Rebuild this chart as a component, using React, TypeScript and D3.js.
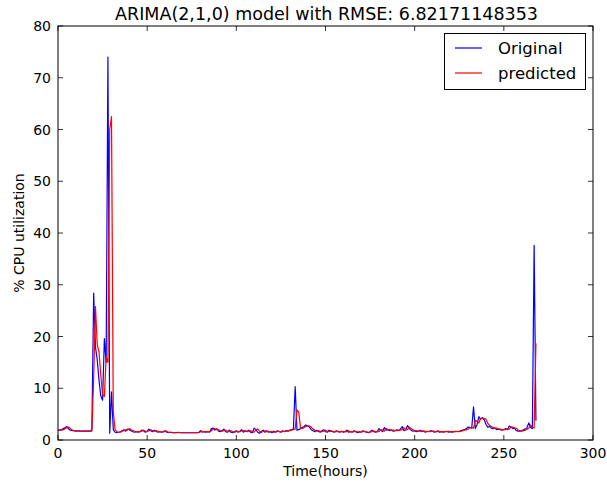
import React from "react";
import * as d3 from "d3";

const title = "ARIMA(2,1,0) model with RMSE: 6.82171148353";
const xTicks = [0, 50, 100, 150, 200, 250, 300];
const yTicks = [0, 10, 20, 30, 40, 50, 60, 70, 80];

const original = [
  1.9, 1.9, 2.0, 2.2, 2.4, 2.6, 2.1, 1.9, 1.8, 1.8,
  1.7, 1.8, 1.7, 1.7, 1.7, 1.7, 1.7, 1.7, 1.7, 2.0,
  28.4, 18.0, 15.5, 11.5, 8.5, 7.7, 19.6, 15.0, 74.0, 1.3,
  9.3, 2.0, 1.5, 1.4, 1.5, 1.6, 1.8, 2.0, 1.7, 2.1,
  2.0, 1.8, 1.6, 1.5, 1.6, 1.5, 1.6, 1.9, 1.8, 1.5,
  1.7, 2.1, 1.8, 1.6, 1.9, 1.7, 1.5, 1.6, 1.5, 1.6,
  1.8, 1.5, 1.4, 1.5, 1.4, 1.4, 1.4, 1.5, 1.4, 1.4,
  1.4, 1.4, 1.4, 1.4, 1.4, 1.4, 1.4, 1.4, 1.4, 1.5,
  1.8, 1.5, 1.6, 1.5, 1.6, 1.5, 2.2, 2.3, 1.9, 2.2,
  1.7, 1.6, 1.8, 2.1, 1.6, 1.5, 1.9, 1.5, 1.4, 1.6,
  1.8, 1.5, 1.7, 2.0, 1.5, 1.8, 1.6, 1.9, 1.5, 1.4,
  2.3, 2.0, 1.5, 1.3, 1.6, 1.9, 1.5, 1.8, 1.5, 1.6,
  1.4, 1.7, 1.5, 1.8, 1.6, 1.5, 1.8, 1.6, 1.8, 1.7,
  1.9, 2.0, 2.1, 10.3, 1.9, 2.0, 2.2, 2.4, 2.6, 2.9,
  2.7, 2.5, 2.0, 1.8, 1.6, 1.9, 1.7, 1.5, 1.8, 2.0,
  1.6, 1.5, 1.9, 1.7, 1.6, 1.5, 1.8, 1.6, 1.5, 1.7,
  1.5, 1.6, 1.9, 1.5, 1.6, 1.5, 1.8, 1.6, 1.4, 1.6,
  1.5, 1.8, 1.6, 1.5, 1.4, 1.6, 1.9, 1.6, 1.5, 1.6,
  2.2, 1.9, 1.6, 2.4, 1.9, 2.0, 1.8, 1.9, 1.7, 1.8,
  2.0, 1.8, 2.1, 2.6, 1.8, 2.0, 2.8, 2.2, 1.9, 1.7,
  1.8, 1.6, 1.7, 1.9, 1.6, 1.7, 1.5, 1.7, 1.6, 1.8,
  1.7, 1.5, 1.6, 1.8, 1.5, 1.6, 1.5, 1.6, 1.7, 1.5,
  1.6, 1.5, 1.6, 1.7, 1.6, 1.7, 1.8, 1.9, 2.0, 2.2,
  2.5, 2.4, 2.3, 6.4, 2.2, 3.0, 4.5, 4.0, 4.3, 3.9,
  3.0, 2.5, 2.6, 2.3, 2.2, 2.3, 2.0, 2.1, 2.0, 1.9,
  2.0, 2.2, 2.0, 2.7, 2.5, 2.2, 2.3, 1.8, 1.7, 1.7,
  1.8, 2.0, 2.1, 2.4, 3.3, 2.4, 2.2, 37.6, 3.7,
];

const predicted = [
  1.9, 1.9, 1.9, 2.0, 2.2, 2.4, 2.5, 2.2, 1.9, 1.8,
  1.8, 1.7, 1.8, 1.7, 1.7, 1.7, 1.7, 1.7, 1.7, 1.7,
  12.0, 25.8, 18.5, 17.0, 12.5, 8.8, 8.4, 16.0, 15.0, 60.0,
  62.5, 5.5, 2.0, 1.6, 1.5, 1.5, 1.7, 1.8, 2.0, 1.9,
  2.2, 2.0, 1.8, 1.7, 1.6, 1.6, 1.6, 1.7, 1.9, 1.7,
  1.6, 1.8, 2.0, 1.8, 1.7, 1.8, 1.7, 1.6, 1.6, 1.5,
  1.7, 1.7, 1.5, 1.5, 1.5, 1.4, 1.4, 1.4, 1.5, 1.4,
  1.4, 1.4, 1.4, 1.4, 1.4, 1.4, 1.4, 1.4, 1.4, 1.4,
  1.6, 1.7, 1.6, 1.6, 1.6, 1.6, 1.8, 2.1, 2.2, 2.0,
  2.0, 1.8, 1.7, 1.8, 1.9, 1.7, 1.6, 1.8, 1.6, 1.5,
  1.6, 1.7, 1.6, 1.8, 1.8, 1.7, 1.7, 1.7, 1.8, 1.6,
  1.5, 2.0, 2.1, 1.7, 1.5, 1.6, 1.8, 1.6, 1.7, 1.6,
  1.6, 1.5, 1.6, 1.6, 1.7, 1.6, 1.6, 1.7, 1.7, 1.8,
  1.8, 1.9, 2.0, 2.1, 5.8, 5.4, 2.3, 2.2, 2.4, 2.6,
  2.8, 2.7, 2.5, 2.1, 1.9, 1.7, 1.8, 1.7, 1.6, 1.7,
  1.9, 1.7, 1.6, 1.8, 1.7, 1.6, 1.6, 1.7, 1.6, 1.6,
  1.6, 1.6, 1.6, 1.8, 1.6, 1.6, 1.6, 1.7, 1.6, 1.5,
  1.6, 1.6, 1.7, 1.6, 1.5, 1.5, 1.6, 1.8, 1.6, 1.6,
  1.6, 2.0, 1.9, 1.7, 2.2, 2.0, 2.0, 1.9, 1.9, 1.8,
  1.8, 1.9, 1.9, 2.0, 2.4, 2.0, 2.0, 2.5, 2.2, 2.0,
  1.8, 1.8, 1.7, 1.7, 1.8, 1.7, 1.7, 1.6, 1.7, 1.6,
  1.7, 1.7, 1.6, 1.6, 1.7, 1.6, 1.6, 1.6, 1.6, 1.7,
  1.6, 1.6, 1.6, 1.6, 1.7, 1.6, 1.7, 1.8, 1.9, 2.0,
  2.1, 2.4, 2.4, 2.3, 3.8, 3.6, 3.3, 4.2, 4.2, 4.2,
  4.0, 3.2, 2.8, 2.6, 2.4, 2.3, 2.3, 2.1, 2.1, 2.0,
  2.0, 2.0, 2.1, 2.1, 2.5, 2.5, 2.3, 2.3, 1.9, 1.8,
  1.7, 1.8, 1.9, 2.1, 2.3, 2.9, 2.5, 2.3, 18.7,
];

const W = 607;
const H = 487;
const M = { left: 58, right: 593, top: 26, bottom: 440 };
const FONT = "'DejaVu Sans', sans-serif";

export default function App() {
  const x = d3.scaleLinear().domain([0, 300]).range([M.left, M.right]);
  const y = d3.scaleLinear().domain([0, 80]).range([M.bottom, M.top]);
  const line = d3
    .line<number>()
    .x((_, i) => x(i))
    .y((d) => y(d));
  const tickLen = 5;
  return (
    <svg
      width={W}
      height={H}
      style={{ position: "absolute", left: 0, top: 0, background: "#fff" }}
      fontFamily={FONT}
    >
      <rect x={0} y={0} width={W} height={H} fill="#fff" />
      <defs>
        <clipPath id="plot">
          <rect x={M.left} y={M.top} width={M.right - M.left} height={M.bottom - M.top} />
        </clipPath>
      </defs>
      <g clipPath="url(#plot)">
        <path d={line(original) || ""} fill="none" stroke="#0000ff" strokeWidth={1.2} strokeLinejoin="round" />
        <path d={line(predicted) || ""} fill="none" stroke="#ff0000" strokeWidth={1.2} strokeLinejoin="round" />
      </g>
      {xTicks.map((t) => (
        <g key={"x" + t}>
          <line x1={x(t)} x2={x(t)} y1={M.bottom} y2={M.bottom - tickLen} stroke="#000" strokeWidth={0.8} />
          <line x1={x(t)} x2={x(t)} y1={M.top} y2={M.top + tickLen} stroke="#000" strokeWidth={0.8} />
          <text x={x(t)} y={M.bottom + 18} textAnchor="middle" fontSize={14} fill="#000">
            {t}
          </text>
        </g>
      ))}
      {yTicks.map((t) => (
        <g key={"y" + t}>
          <line x1={M.left} x2={M.left + tickLen} y1={y(t)} y2={y(t)} stroke="#000" strokeWidth={0.8} />
          <line x1={M.right} x2={M.right - tickLen} y1={y(t)} y2={y(t)} stroke="#000" strokeWidth={0.8} />
          <text x={M.left - 7} y={y(t) + 5} textAnchor="end" fontSize={14} fill="#000">
            {t}
          </text>
        </g>
      ))}
      <rect
        x={M.left}
        y={M.top}
        width={M.right - M.left}
        height={M.bottom - M.top}
        fill="none"
        stroke="#000"
        strokeWidth={1}
      />
      <text x={(M.left + M.right) / 2 + 1} y={20} textAnchor="middle" fontSize={17.5} fill="#000">
        {title}
      </text>
      <text x={(M.left + M.right) / 2} y={476} textAnchor="middle" fontSize={14} fill="#000">
        Time(hours)
      </text>
      <text
        transform={`translate(24, ${(M.top + M.bottom) / 2}) rotate(-90)`}
        textAnchor="middle"
        fontSize={14}
        fill="#000"
      >
        % CPU utilization
      </text>
      <g>
        <rect x={444.5} y={33.5} width={141} height={56} fill="#fff" stroke="#000" strokeWidth={1} />
        <line x1={455} x2={482} y1={48} y2={48} stroke="#0000ff" strokeWidth={1.2} />
        <text x={498} y={54} fontSize={16.5} fill="#000">
          Original
        </text>
        <line x1={455} x2={482} y1={73} y2={73} stroke="#ff0000" strokeWidth={1.2} />
        <text x={498} y={79} fontSize={16.5} fill="#000">
          predicted
        </text>
      </g>
    </svg>
  );
}
